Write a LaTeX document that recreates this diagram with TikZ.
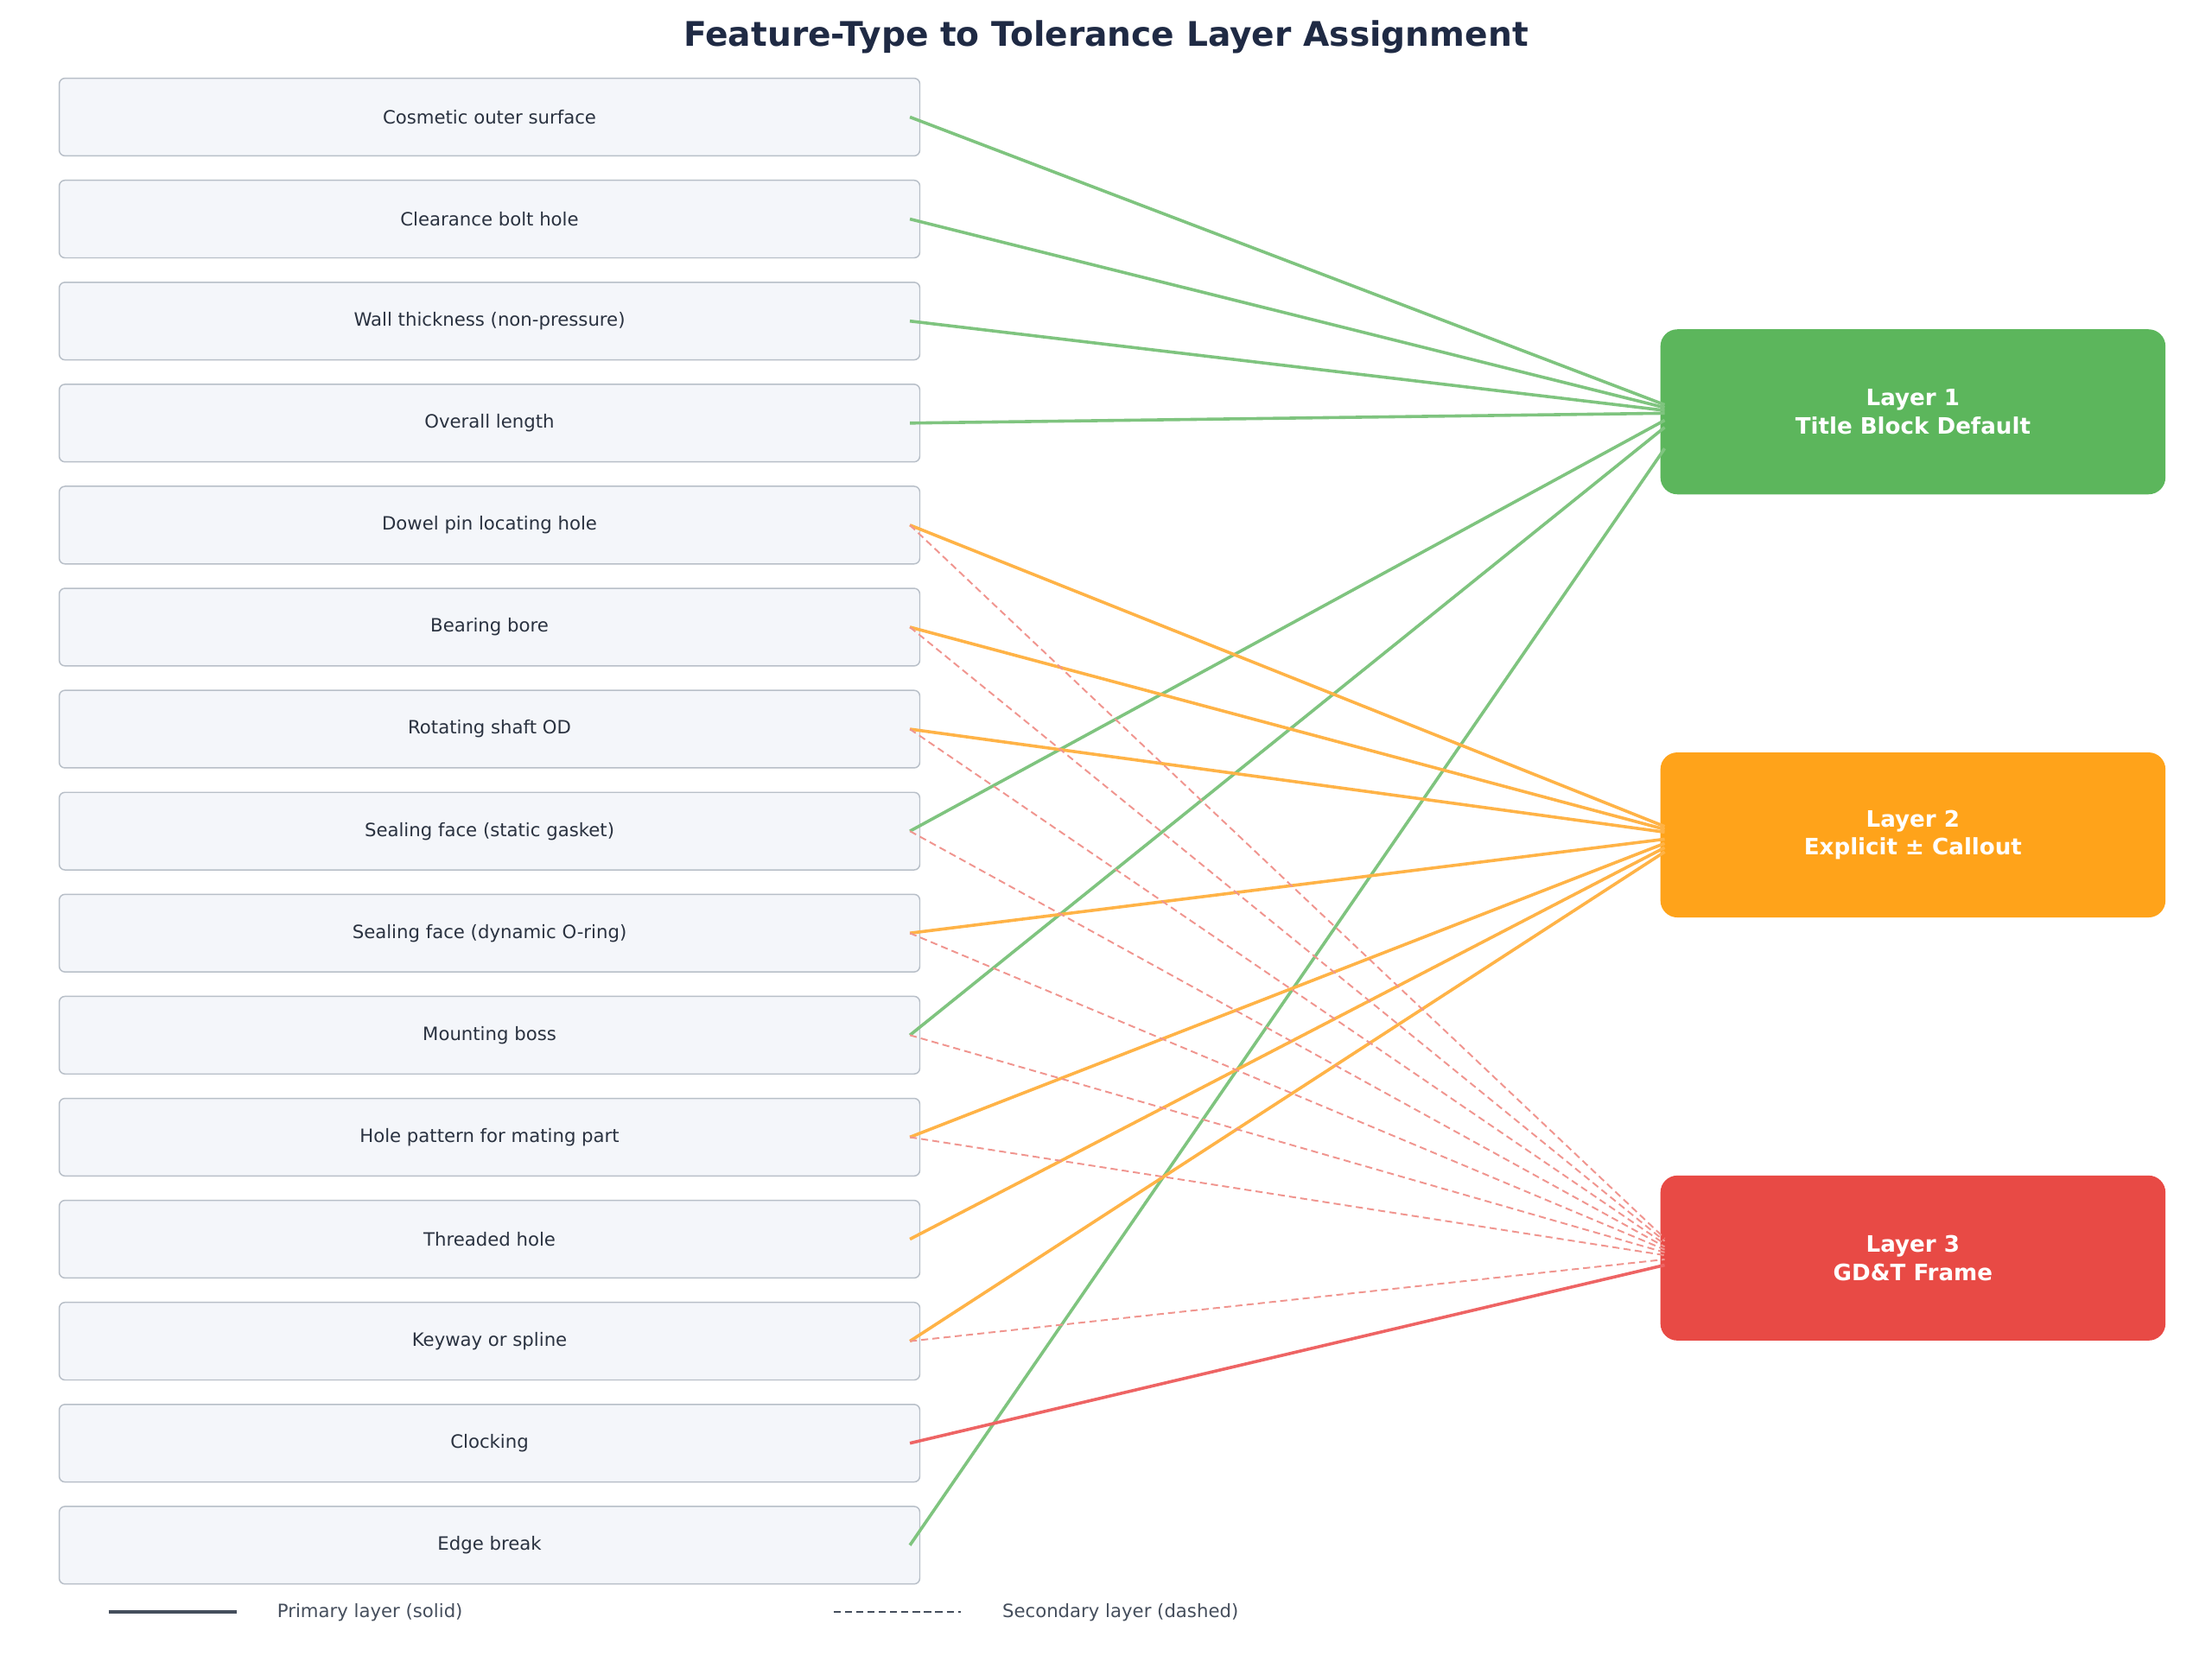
\documentclass[tikz,border=0pt]{standalone}
\usepackage{fontspec}
\setmainfont{DejaVu Sans}
\begin{document}
\begin{tikzpicture}[x=1pt,y=-1pt,
  feat/.style={draw=boxline,fill=boxfill,rounded corners=4pt,line width=0.9pt,minimum width=610pt,minimum height=55pt,inner sep=0pt,font=\fontsize{13}{15}\selectfont,text=txt},
  layer/.style={rounded corners=12pt,minimum width=358pt,minimum height=117pt,inner sep=0pt,align=center,text=white,font=\fontsize{16}{20}\selectfont\bfseries},
  g/.style={draw=lgreen,line width=2.2pt},
  o/.style={draw=lorange,line width=2.2pt},
  r/.style={draw=lred,line width=2.2pt},
  d/.style={draw=ldash,line width=1.2pt,dash pattern=on 5pt off 3pt}]
\definecolor{boxline}{HTML}{B8BFC8}
\definecolor{boxfill}{HTML}{F4F6FA}
\definecolor{txt}{HTML}{2A3240}
\definecolor{lgreen}{HTML}{7FC47F}
\definecolor{lorange}{HTML}{FFB347}
\definecolor{lred}{HTML}{EE6464}
\definecolor{ldash}{HTML}{F0958F}
\definecolor{cone}{HTML}{5CB65C}
\definecolor{ctwo}{HTML}{FFA31A}
\definecolor{cthree}{HTML}{E84A45}
\definecolor{ttl}{HTML}{1F2A44}
\definecolor{leg}{HTML}{454E5C}
\useasboundingbox (0,0) rectangle (1568,1178);
\node[font=\fontsize{24}{28}\selectfont\bfseries,text=ttl] (title) at (784,26) {Feature-Type to Tolerance Layer Assignment};
\foreach \i/\t in {0/Cosmetic outer surface,1/Clearance bolt hole,2/Wall thickness (non-pressure),3/Overall length / width / height,4/Dowel pin locating hole,5/Bearing bore,6/Rotating shaft OD,7/Sealing face (static gasket),8/Sealing face (dynamic O-ring),9/Mounting boss,10/Hole pattern for mating part,11/Threaded hole,12/Keyway or spline,13/Clocking / timing feature,14/Edge break / chamfer / fillet}{
  \node[feat] (f\i) at (347,{83+72.33*\i}) {\t};
  \coordinate (s\i) at (645,{83+72.33*\i});
}
\node[layer,fill=cone] (L1) at (1356,292) {Layer 1\\Title Block Default};
\node[layer,fill=ctwo] (L2) at (1356,592) {Layer 2\\Explicit ± Callout};
\node[layer,fill=cthree] (L3) at (1356,892) {Layer 3\\GD\&T Frame};
% green
\foreach \i/\y in {0/287,1/289,2/291,3/293,7/298,9/303,14/318}{
  \coordinate (a\i) at (1180,\y);
  \draw[g] (s\i) -- (a\i);
}
% orange
\foreach \i/\y in {4/586,5/588,6/590,8/595,10/598,11/601,12/604}{
  \coordinate (b\i) at (1180,\y);
  \draw[o] (s\i) -- (b\i);
}
% dashed
\foreach \i/\y in {4/878,5/880,6/882,7/884,8/886,9/888,10/890,12/893}{
  \coordinate (c\i) at (1180,\y);
  \draw[d] (s\i) -- (c\i);
}
\coordinate (c13) at (1180,897);
\draw[r] (s13) -- (c13);
% legend
\coordinate (p1) at (77,1143); \coordinate (p2) at (168,1143);
\draw[draw=leg,line width=2.2pt] (p1) -- (p2);
\node[anchor=west,text=leg,font=\fontsize{13}{15}\selectfont] (lt1) at (193,1143) {Primary layer (solid)};
\coordinate (q1) at (591,1143); \coordinate (q2) at (681,1143);
\draw[draw=leg,line width=1.2pt,dash pattern=on 5pt off 3pt] (q1) -- (q2);
\node[anchor=west,text=leg,font=\fontsize{13}{15}\selectfont] (lt2) at (707,1143) {Secondary layer (dashed)};
\end{tikzpicture}
\end{document}
